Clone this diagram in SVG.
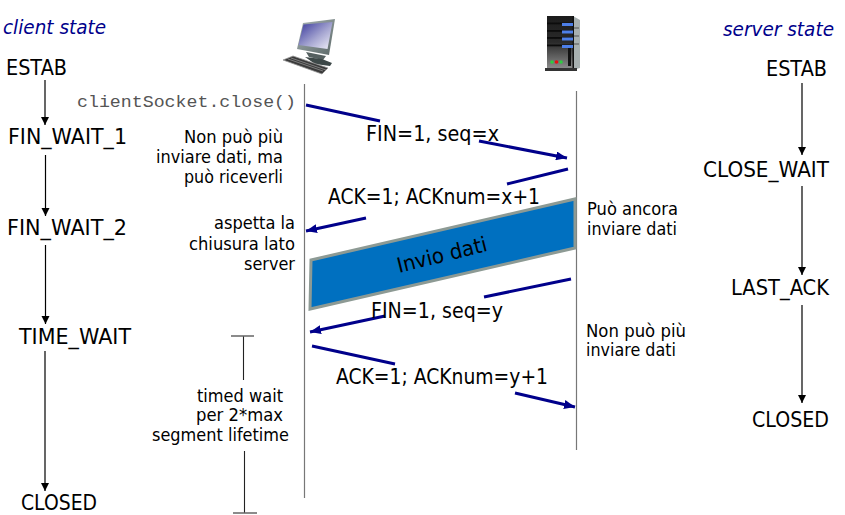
<svg xmlns="http://www.w3.org/2000/svg" width="845" height="515" viewBox="0 0 845 515">
<defs>
<linearGradient id="scr" x1="0" y1="0" x2="1" y2="1"><stop offset="0" stop-color="#34349a"/><stop offset="0.55" stop-color="#a4a4d0"/><stop offset="1" stop-color="#f2f2fa"/></linearGradient>
<linearGradient id="mon" x1="0" y1="0" x2="1" y2="1"><stop offset="0" stop-color="#a9b4b4"/><stop offset="1" stop-color="#5b6868"/></linearGradient>
<linearGradient id="tower" x1="0" y1="0" x2="0" y2="1"><stop offset="0" stop-color="#1c1c1c"/><stop offset="0.5" stop-color="#2a2a2a"/><stop offset="1" stop-color="#8a8a8a"/></linearGradient>
<marker id="ah" markerWidth="9" markerHeight="9" refX="8" refY="4" orient="auto" markerUnits="userSpaceOnUse"><path d="M0,0 L8,4 L0,8 Z" fill="#000"/></marker>
<marker id="bh" markerWidth="12" markerHeight="9" refX="11" refY="4.500" orient="auto" markerUnits="userSpaceOnUse"><path d="M0,0 L11,4.500 L0,9 Z" fill="#00008b"/></marker>
</defs>
<style>
text{font-family:"DejaVu Sans","Liberation Sans",sans-serif;fill:#000}
.st,.msg{font-size:21px}
.note{font-size:17px}
.hdr{font-size:20px;font-style:italic;fill:#00008b}
.tl{stroke:#777;stroke-width:1.2;fill:none}
.sa{stroke:#000;stroke-width:1.2;fill:none;marker-end:url(#ah)}
.m{stroke:#00008b;stroke-width:3;fill:none}
.ma{stroke:#00008b;stroke-width:3;fill:none;marker-end:url(#bh)}
.bar{stroke:#222;stroke-width:1.1;fill:none}
.cap{stroke:#666;stroke-width:1.3;fill:none}
</style>
<rect width="845" height="515" fill="#fff"/>

<g id="connectors">
<line class="tl" x1="304.500" y1="84" x2="304.500" y2="498"/>
<line class="tl" x1="576.500" y1="91" x2="576.500" y2="450"/>
<line class="sa" x1="45" y1="80" x2="45" y2="125"/>
<line class="sa" x1="45.500" y1="155" x2="45.500" y2="216"/>
<line class="sa" x1="45.500" y1="245" x2="45.500" y2="324"/>
<line class="sa" x1="45" y1="351" x2="45" y2="491"/>
<line class="sa" x1="802" y1="83" x2="802" y2="155"/>
<line class="sa" x1="802" y1="186" x2="802" y2="275"/>
<line class="sa" x1="802" y1="305" x2="802" y2="403"/>
<line class="m" x1="306" y1="105" x2="380" y2="121"/>
<line class="ma" x1="479" y1="141" x2="567" y2="158"/>
<line class="m" x1="568" y1="169" x2="507" y2="184"/>
<line class="ma" x1="366" y1="218" x2="306" y2="231"/>
<line class="m" x1="571" y1="279" x2="484" y2="297"/>
<line class="ma" x1="385" y1="316" x2="310" y2="332"/>
<line class="m" x1="312" y1="346" x2="395" y2="364"/>
<line class="ma" x1="515" y1="393" x2="575" y2="407"/>
<path class="bar" d="M243.500,336 V380 M244.500,451 V513"/>
<path class="cap" d="M231,336 H254 M233,513 H257"/>
</g>

<g id="client-computer">
<path d="M303,23 L335,19 L329,55 L297,49 Z" fill="url(#mon)"/>
<path d="M303.500,24.500 L332.500,22 L327.500,49 L298.500,45 Z" fill="url(#scr)"/>
<path d="M306,52 L326,56 L323,60 L309,57 Z" fill="#556060"/>
<path d="M305,57 L322,59 L332,63 L330,66 L315,64 Z" fill="#3d4848"/>
<path d="M283,60 L293,56 L328,68 L322,74 Z" fill="#3a3a3a" stroke="#999" stroke-width="0.800"/>
<path d="M288,59 L323,71 M291,58 L326,70" stroke="#aaa" stroke-width="0.600" fill="none"/>
</g>
<g id="server-computer">
<path d="M573,16 L580,20 V68 L573,70 Z" fill="#a8b0b0"/>
<path d="M574,28 H579 M574,36 H579 M574,44 H579" stroke="#555" stroke-width="1" fill="none"/>
<rect x="547" y="16" width="26" height="52" fill="url(#tower)"/>
<rect x="572.500" y="16" width="1.500" height="54" fill="#111"/>
<path d="M545,68 H577 V71 H545 Z" fill="#333"/>
<g fill="#0c0c0c"><rect x="547" y="22.500" width="26" height="1.800"/><rect x="547" y="30" width="26" height="1.800"/><rect x="547" y="37" width="26" height="1.800"/><rect x="547" y="44.500" width="26" height="1.800"/></g>
<g fill="#4d7fe8"><rect x="562" y="23" width="11" height="3"/><rect x="562" y="30.500" width="11" height="3"/><rect x="562" y="37.500" width="11" height="3"/><rect x="562" y="45" width="11" height="3"/></g>
<rect x="568" y="48" width="3" height="18" fill="#111"/>
<circle cx="552" cy="62" r="1.800" fill="#2ecc40"/><circle cx="556.500" cy="62" r="1.800" fill="#e81010"/><circle cx="561" cy="62" r="1.800" fill="#2ecc40"/>
</g>

<g id="invio-dati">
<path d="M311,260 L575,199 V248 L310,309 Z" fill="#0070c0" stroke="#8d9a94" stroke-width="3"/>
<text x="399" y="273" transform="rotate(-14 399 273)" style="font-size:21px" textLength="92" lengthAdjust="spacingAndGlyphs">Invio dati</text>
</g>

<g id="client-state-labels">
<text class="hdr" x="3" y="34" textLength="103" lengthAdjust="spacingAndGlyphs">client state</text>
<text class="st" x="6" y="75" textLength="61" lengthAdjust="spacingAndGlyphs">ESTAB</text>
<text class="st" x="8" y="144" textLength="119" lengthAdjust="spacingAndGlyphs">FIN_WAIT_1</text>
<text class="st" x="7" y="235" textLength="120" lengthAdjust="spacingAndGlyphs">FIN_WAIT_2</text>
<text class="st" x="19" y="344" textLength="112" lengthAdjust="spacingAndGlyphs">TIME_WAIT</text>
<text class="st" x="21" y="510" textLength="76" lengthAdjust="spacingAndGlyphs">CLOSED</text>
</g>
<g id="server-state-labels">
<text class="hdr" x="723" y="36" textLength="111" lengthAdjust="spacingAndGlyphs">server state</text>
<text class="st" x="766" y="76" textLength="61" lengthAdjust="spacingAndGlyphs">ESTAB</text>
<text class="st" x="703" y="177" textLength="126" lengthAdjust="spacingAndGlyphs">CLOSE_WAIT</text>
<text class="st" x="731" y="295" textLength="98" lengthAdjust="spacingAndGlyphs">LAST_ACK</text>
<text class="st" x="752" y="427" textLength="77" lengthAdjust="spacingAndGlyphs">CLOSED</text>
</g>
<g id="messages">
<text x="77" y="107" style="font-size:17px;font-family:'Liberation Mono',monospace;fill:#555" textLength="219" lengthAdjust="spacingAndGlyphs">clientSocket.close()</text>
<text class="msg" x="366" y="141" textLength="133" lengthAdjust="spacingAndGlyphs">FIN=1, seq=x</text>
<text class="msg" x="328" y="204" textLength="212" lengthAdjust="spacingAndGlyphs">ACK=1; ACKnum=x+1</text>
<text class="msg" x="371" y="318" textLength="132" lengthAdjust="spacingAndGlyphs">FIN=1, seq=y</text>
<text class="msg" x="336" y="384" textLength="212" lengthAdjust="spacingAndGlyphs">ACK=1; ACKnum=y+1</text>
</g>
<g id="notes">
<text class="note" x="184" y="143" textLength="99" lengthAdjust="spacingAndGlyphs">Non può più</text>
<text class="note" x="156" y="163" textLength="127" lengthAdjust="spacingAndGlyphs">inviare dati, ma</text>
<text class="note" x="184" y="183" textLength="99" lengthAdjust="spacingAndGlyphs">può riceverli</text>
<text class="note" x="214" y="229" textLength="81" lengthAdjust="spacingAndGlyphs">aspetta la</text>
<text class="note" x="189" y="250" textLength="106" lengthAdjust="spacingAndGlyphs">chiusura lato</text>
<text class="note" x="244" y="270" textLength="51" lengthAdjust="spacingAndGlyphs">server</text>
<text class="note" x="587" y="215" textLength="91" lengthAdjust="spacingAndGlyphs">Può ancora</text>
<text class="note" x="587" y="235" textLength="90" lengthAdjust="spacingAndGlyphs">inviare dati</text>
<text class="note" x="586" y="337" textLength="100" lengthAdjust="spacingAndGlyphs">Non può più</text>
<text class="note" x="586" y="356" textLength="90" lengthAdjust="spacingAndGlyphs">inviare dati</text>
<text class="note" x="197" y="402" textLength="86" lengthAdjust="spacingAndGlyphs">timed wait</text>
<text class="note" x="196" y="421" textLength="87" lengthAdjust="spacingAndGlyphs">per 2*max</text>
<text class="note" x="152" y="441" textLength="137" lengthAdjust="spacingAndGlyphs">segment lifetime</text>
</g>
</svg>
